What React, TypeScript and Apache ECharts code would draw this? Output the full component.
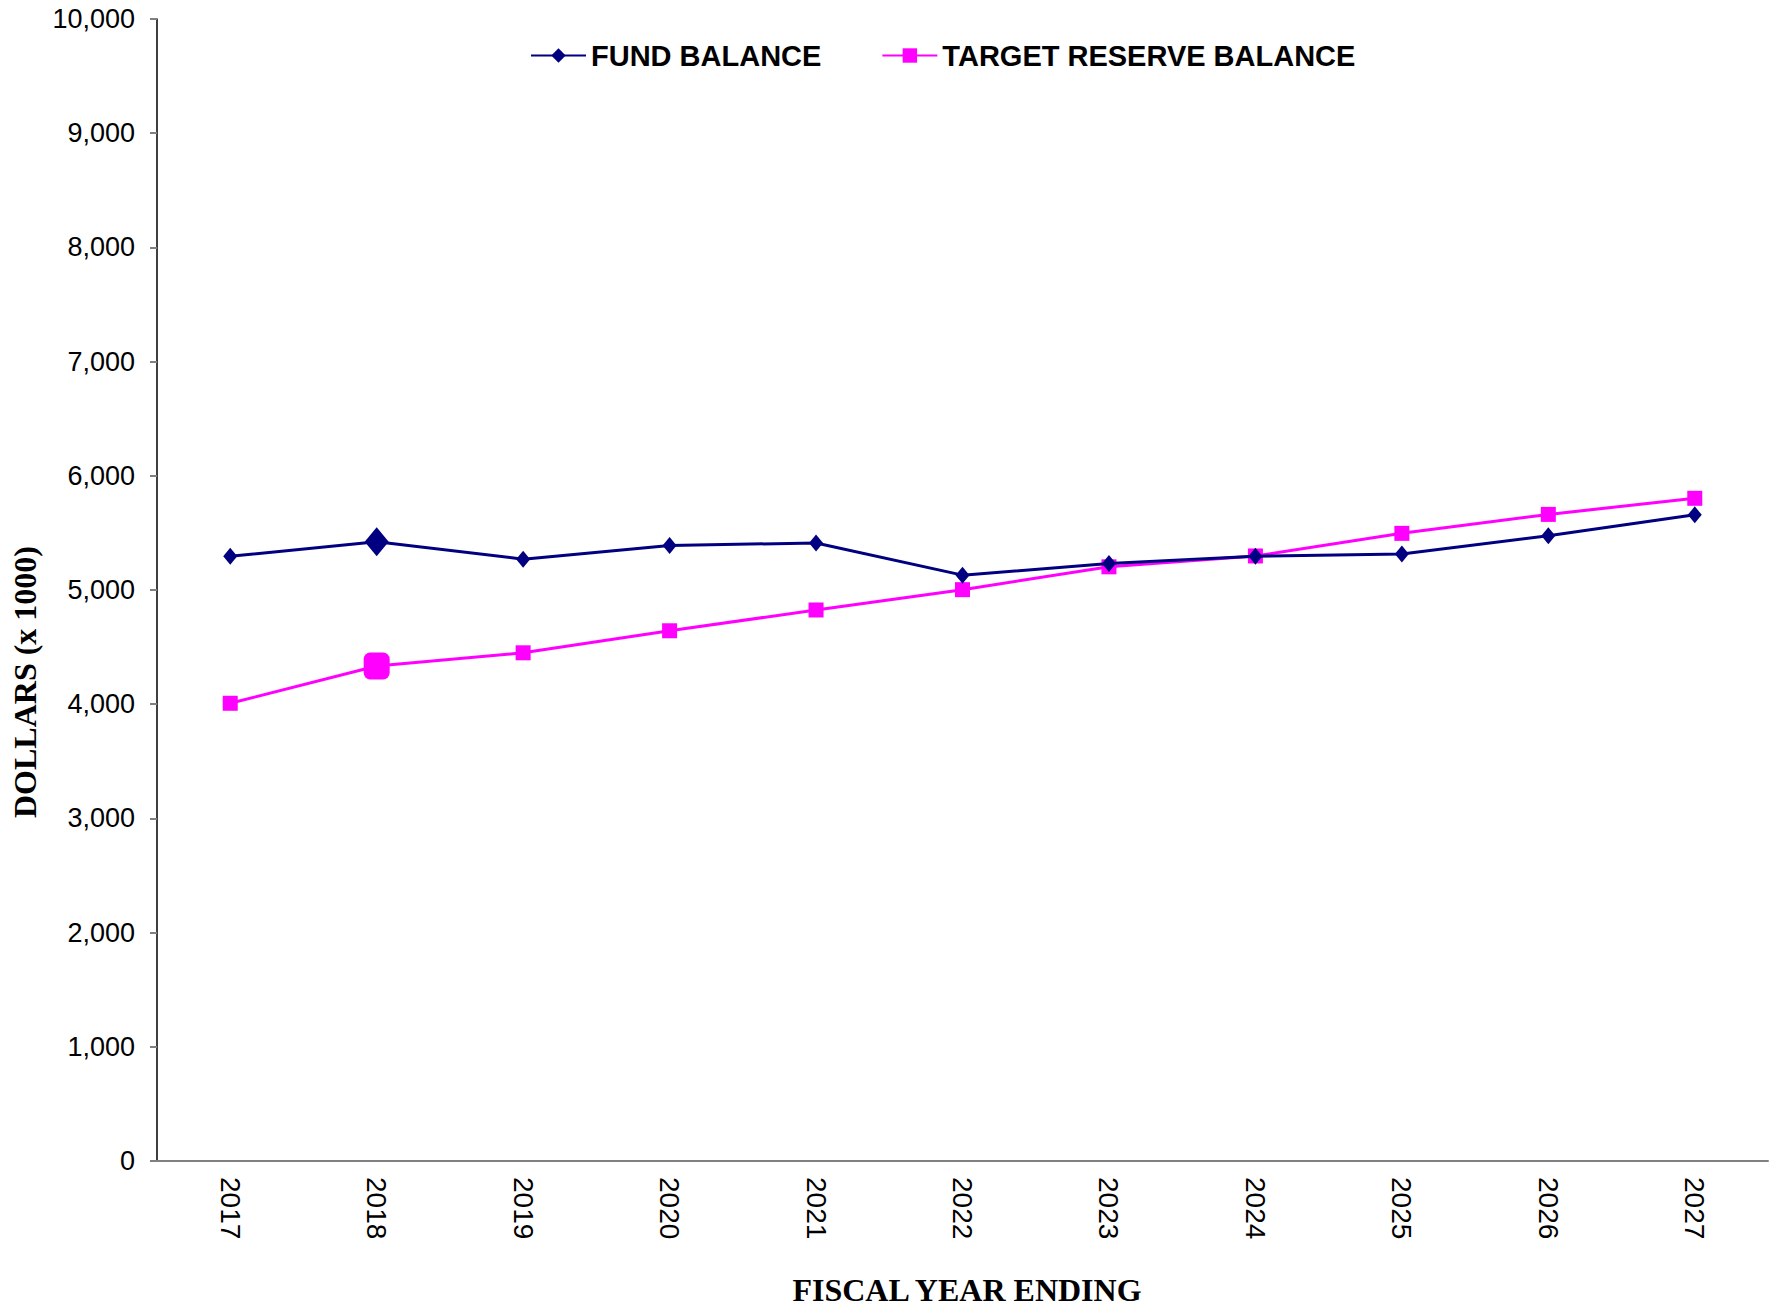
import React, { useEffect, useRef } from "react";
import * as echarts from "echarts";

const years = ["2017", "2018", "2019", "2020", "2021", "2022", "2023", "2024", "2025", "2026", "2027"];
const fundBalance = [5295, 5423, 5270, 5390, 5412, 5130, 5232, 5295, 5315, 5475, 5658];
const targetReserve = [4008, 4334, 4450, 4643, 4825, 5003, 5203, 5298, 5496, 5662, 5803];
const highlightIndex = 1;

const seriesNames = ["FUND BALANCE", "TARGET RESERVE BALANCE"];
const yTitle = "DOLLARS (x 1000)";
const xTitle = "FISCAL YEAR ENDING";

const SANS = "'Liberation Sans', Arial, sans-serif";
const SERIF = "'Liberation Serif', 'Times New Roman', serif";

export default function App() {
  const ref = useRef<HTMLDivElement>(null);
  useEffect(() => {
    document.body.style.margin = "0";
    const chart = echarts.init(ref.current!, null, { renderer: "svg" });
    const fundData = fundBalance.map((v, i) =>
      i === highlightIndex ? { value: v, symbolSize: [24, 29] } : v
    );
    const targetData = targetReserve.map((v, i) =>
      i === highlightIndex ? { value: v, symbol: "roundRect", symbolSize: [26, 27] } : v
    );
    chart.setOption({
      animation: false,
      backgroundColor: "#ffffff",
      grid: { left: 157, right: 7, top: 19, bottom: 149, containLabel: false },
      legend: {
        left: 525,
        top: 36,
        itemWidth: 55,
        itemHeight: 18,
        itemGap: 60,
        textStyle: { fontFamily: SANS, fontWeight: "bold", fontSize: 29, color: "#000" },
        data: seriesNames,
      },
      xAxis: [
        {
          type: "category",
          data: years,
          boundaryGap: true,
          axisLine: { lineStyle: { color: "#808080", width: 2 } },
          axisTick: { alignWithLabel: true, length: 7, lineStyle: { color: "#808080", width: 2 } },
          axisLabel: {
            rotate: -90,
            margin: 16,
            fontFamily: SANS,
            fontSize: 28,
            color: "#000",
          },
          splitLine: { show: false },
        },
        {
          type: "category",
          data: years,
          position: "bottom",
          boundaryGap: true,
          axisLine: { show: false },
          axisTick: { alignWithLabel: true, inside: true, length: 7, lineStyle: { color: "#808080", width: 2 } },
          axisLabel: { show: false },
          splitLine: { show: false },
        },
      ],
      yAxis: {
        type: "value",
        min: 0,
        max: 10000,
        interval: 1000,
        axisLine: { show: true, lineStyle: { color: "#000", width: 1.5 } },
        axisTick: { show: true, length: 7, lineStyle: { color: "#808080", width: 2 } },
        axisLabel: {
          margin: 22,
          fontFamily: SANS,
          fontSize: 27,
          color: "#000",
          formatter: (v: number) => v.toLocaleString("en-US"),
        },
        splitLine: { show: false },
      },
      graphic: [
        {
          type: "text",
          x: 25,
          y: 682,
          rotation: Math.PI / 2,
          style: {
            text: yTitle,
            fontFamily: SERIF,
            fontWeight: "bold",
            fontSize: 32,
            fill: "#000",
            textAlign: "center",
            textVerticalAlign: "middle",
          },
        },
        {
          type: "text",
          x: 967,
          y: 1290,
          style: {
            text: xTitle,
            fontFamily: SERIF,
            fontWeight: "bold",
            fontSize: 32,
            fill: "#000",
            textAlign: "center",
            textVerticalAlign: "middle",
          },
        },
      ],
      series: [
        {
          name: seriesNames[0],
          type: "line",
          data: fundData,
          symbol: "diamond",
          symbolSize: [14, 17],
          showAllSymbol: true,
          color: "#000080",
          lineStyle: { color: "#000080", width: 3 },
          itemStyle: { color: "#000080" },
          z: 3,
        },
        {
          name: seriesNames[1],
          type: "line",
          data: targetData,
          symbol: "rect",
          symbolSize: 15,
          showAllSymbol: true,
          color: "#FF00FF",
          lineStyle: { color: "#FF00FF", width: 3 },
          itemStyle: { color: "#FF00FF" },
          z: 2,
        },
      ],
    });
    return () => chart.dispose();
  }, []);
  return <div ref={ref} style={{ width: 1775, height: 1310 }} />;
}
